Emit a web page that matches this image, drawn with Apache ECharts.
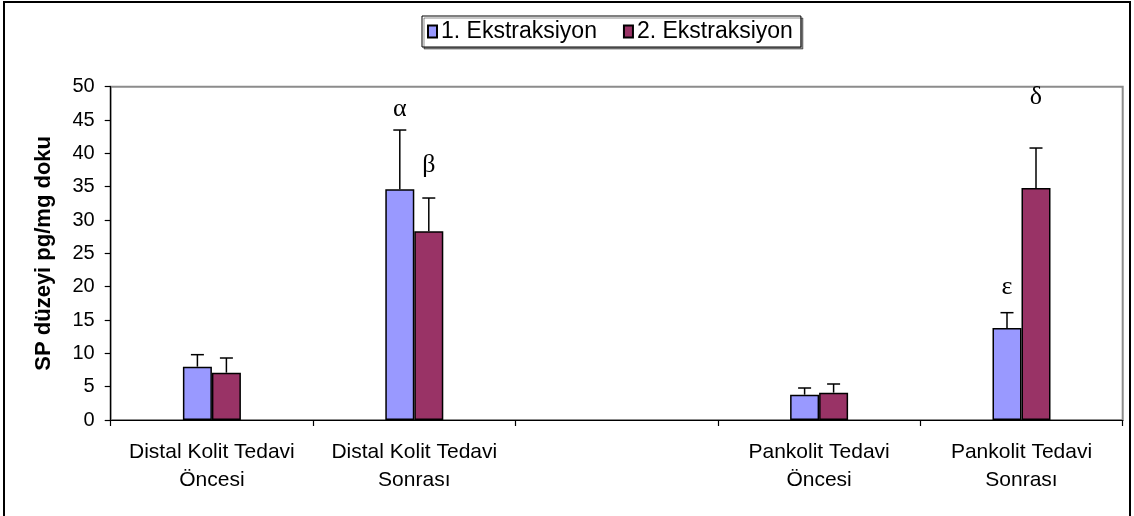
<!DOCTYPE html>
<html>
<head>
<meta charset="utf-8">
<script src="https://cdn.jsdelivr.net/npm/echarts@6/dist/echarts.min.js"></script>
<style>
html,body{margin:0;padding:0;background:#fff;}
#chart{width:1134px;height:516px;}
</style>
</head>
<body>
<div id="chart"></div>
<script>
// ---- data ----
const categories = ['Distal Kolit Tedavi\nÖncesi', 'Distal Kolit Tedavi\nSonrası', '', 'Pankolit Tedavi\nÖncesi', 'Pankolit Tedavi\nSonrası'];
const seriesNames = ['1. Ekstraksiyon', '2. Ekstraksiyon'];
const ext1 = [8.0, 34.6, null, 3.8, 13.8];
const ext2 = [7.1, 28.3, null, 4.1, 34.8];
const err1 = [1.8, 8.9, null, 1.0, 2.3];
const err2 = [2.2, 5.0, null, 1.3, 6.0];
const yTicks = { min: 0, max: 50, interval: 5 };
const annotSymbols = ['α', 'β', 'ε', 'δ'];
const annotCategory = [1, 1, 4, 4];
const annotSeries = [0, 1, 0, 1];
const annotValue = [46.6, 38.3, 19.9, 48.4];

// ---- styles ----
const colors = ['#9999FF', '#993366'];
const BAR_W = 29;
const FONT = 'Liberation Sans';

function errData(vals, errs) {
  const out = [];
  vals.forEach((v, i) => { if (v != null && errs[i] != null) out.push([i, v, errs[i]]); });
  return out;
}

function errRender(offset) {
  return function (params, api) {
    const x = api.value(0), v = api.value(1), e = api.value(2);
    const base = api.coord([x, v]);
    const top = api.coord([x, v + e]);
    const cx = base[0] + offset;
    const st = { stroke: '#000', lineWidth: 1.5 };
    return {
      type: 'group',
      children: [
        { type: 'line', shape: { x1: cx, y1: base[1], x2: cx, y2: top[1] }, style: st },
        { type: 'line', shape: { x1: cx - 6.5, y1: top[1], x2: cx + 6.5, y2: top[1] }, style: st }
      ]
    };
  };
}

const annotData = annotSymbols.map((s, i) => [annotCategory[i], annotValue[i], annotSeries[i], s]);

const chart = echarts.init(document.getElementById('chart'), null, { renderer: 'canvas' });
chart.setOption({
  animation: false,
  backgroundColor: '#fff',
  graphic: [{
    type: 'rect', z: 100, silent: true,
    shape: { x: 4, y: 2, width: 1126, height: 560 },
    style: { fill: 'none', stroke: '#000', lineWidth: 2 }
  }],
  legend: {
    left: 422, top: 16,
    padding: [4, 8, 4, 5],
    itemGap: 26,
    itemWidth: 9, itemHeight: 12,
    backgroundColor: '#fff',
    borderColor: '#000', borderWidth: 1,
    shadowColor: 'rgba(0,0,0,0.45)', shadowBlur: 0, shadowOffsetX: 2, shadowOffsetY: 2,
    textStyle: { fontFamily: FONT, fontSize: 23, color: '#000', padding: [0, 0, 0, -1] },
    data: seriesNames.map(n => ({ name: n, icon: 'rect' }))
  },
  grid: {
    left: 110.7, right: 11.3, top: 86.7, bottom: 96,
    show: true, borderColor: '#8c8c8c', borderWidth: 2, backgroundColor: 'transparent'
  },
  xAxis: {
    type: 'category',
    data: categories,
    axisLine: { lineStyle: { color: '#000', width: 1.2 } },
    axisTick: { show: true, length: 6, interval: 0, lineStyle: { color: '#000', width: 1.2 } },
    axisLabel: { interval: 0, fontFamily: FONT, fontSize: 21, color: '#000', lineHeight: 28, margin: 18 }
  },
  yAxis: {
    type: 'value',
    min: yTicks.min, max: yTicks.max, interval: yTicks.interval,
    name: 'SP düzeyi pg/mg doku',
    nameLocation: 'middle',
    nameGap: 56,
    nameTextStyle: { fontFamily: FONT, fontSize: 22, fontWeight: 'bold', color: '#000' },
    axisLine: { show: true, lineStyle: { color: '#000', width: 1.2 } },
    axisTick: { show: true, length: 6, lineStyle: { color: '#000', width: 1.2 } },
    axisLabel: { fontFamily: FONT, fontSize: 20, color: '#000', margin: 16 },
    splitLine: { show: false }
  },
  series: [
    {
      name: seriesNames[0], type: 'bar', data: ext1,
      barWidth: BAR_W, barGap: '0%',
      itemStyle: { color: colors[0], borderColor: '#000', borderWidth: 1.5 }
    },
    {
      name: seriesNames[1], type: 'bar', data: ext2,
      barWidth: BAR_W, barGap: '0%',
      itemStyle: { color: colors[1], borderColor: '#000', borderWidth: 1.5 }
    },
    {
      type: 'custom', data: errData(ext1, err1), renderItem: errRender(-BAR_W / 2),
      encode: { x: 0, y: [1, 2] }, z: 5, silent: true
    },
    {
      type: 'custom', data: errData(ext2, err2), renderItem: errRender(BAR_W / 2),
      encode: { x: 0, y: [1, 2] }, z: 5, silent: true
    },
    {
      type: 'custom', data: annotData, z: 6, silent: true,
      encode: { x: 0, y: 1 },
      renderItem: function (params, api) {
        const p = api.coord([api.value(0), api.value(1)]);
        const off = api.value(2) === 0 ? -BAR_W / 2 : BAR_W / 2;
        return {
          type: 'text',
          style: {
            x: p[0] + off, y: p[1],
            text: annotData[params.dataIndex][3],
            fill: '#000',
            font: '26px "Liberation Serif"',
            textAlign: 'center', textVerticalAlign: 'middle'
          }
        };
      }
    }
  ]
});
</script>
</body>
</html>
